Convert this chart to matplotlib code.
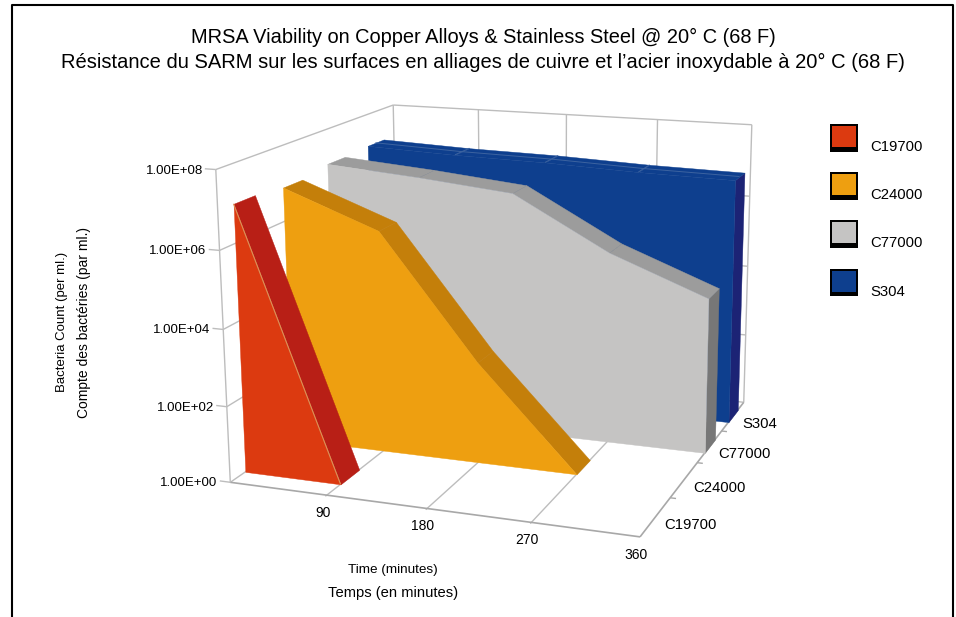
import numpy as np
import matplotlib
matplotlib.use("Agg")
import matplotlib.pyplot as plt
from matplotlib.patches import Rectangle
from mpl_toolkits.mplot3d.art3d import Poly3DCollection, Line3DCollection

plt.rcParams['font.family'] = ['Liberation Sans', 'DejaVu Sans']

# data, counts as log10
times = [0, 90, 180, 270, 360]
series = ['C19700', 'C24000', 'C77000', 'S304']
c19700 = [7.0, 0.0]
c24000 = [6.9, 5.95, 2.7, 0.0]
c77000 = [7.05, 6.85, 6.6, 5.2, 4.2]
s304 = [7.1, 7.0, 6.95, 6.85, 6.8]
values = [c19700, c24000, c77000, s304]
y_ticks = [0, 2, 4, 6, 8]
y_labels = ['1.00E+00', '1.00E+02', '1.00E+04', '1.00E+06', '1.00E+08']

face_colors = ['#DC3A10', '#EE9F10', '#C5C4C3', '#0E3F8E']
side_colors = ['#B81F16', '#C47F0A', '#9C9C9C', '#0E3F8E']
end_colors = ['#B81F16', '#C47F0A', '#777777', '#1C2375']

W, H = 956, 617

# camera: (t, log count, depth) -> pixel
cam = [(0, 0, 0, 231, 482), (0, 8, 0, 218, 169), (360, 0, 0, 637, 538),
       (360, 0, 4, 743, 402), (360, 8, 4, 753, 124), (0, 8, 4, 392, 105),
       (90, 0, 0, 328, 495), (180, 0, 0, 427, 509), (270, 0, 0, 532, 522),
       (0, 2, 0, 225, 407), (0, 4, 0, 222, 330), (0, 6, 0, 220, 250),
       (360, 6, 4, 748, 197), (360, 4, 4, 747, 267), (360, 2, 4, 745, 335),
       (360, 0, 1, 669, 497), (360, 0, 2, 698, 463), (360, 0, 3, 726, 430),
       (90, 8, 4, 478, 110), (180, 8, 4, 567, 115), (270, 8, 4, 658, 119)]


def fit_camera(points):
    # matrix for mplot3d, input (t, depth, value), output in -1..1 view coords
    rows = []
    for t, y, z, px, py in points:
        p = [t / 360, z / 4, y / 8, 1]
        u, v = 2 * px / W - 1, 2 * py / H - 1
        rows.append(p + [0, 0, 0, 0] + [-u * c for c in p])
        rows.append([0, 0, 0, 0] + p + [-v * c for c in p])
    P = np.linalg.svd(np.array(rows))[2][-1].reshape(3, 4)
    P = P @ np.diag([1 / 360, 1 / 4, 1 / 8, 1])
    if P[2, 3] < 0:
        P = -P
    null = np.linalg.svd(P)[2][-1]
    return np.vstack([P[0], P[1], 1e-3 * P[2, 3] * null, P[2]])


M = fit_camera(cam)


def to_pixel(t, y, z):
    h = M @ np.array([t, z, y, 1.0])
    return (h[0] / h[3] + 1) * W / 2, (h[1] / h[3] + 1) * H / 2


fig = plt.figure(figsize=(W / 100, H / 100), dpi=100)
ax = fig.add_subplot(projection='3d', computed_zorder=False)
ax.apply_aspect = lambda position=None: None
ax.set_position([0, 0, 1, 1])
ax.get_proj = lambda: M
ax.viewLim.intervalx = (-1, 1)
ax.viewLim.intervaly = (1, -1)
ax.set_axis_off()

grid = '#BDBDBD'
frame = '#A8A8A8'


def line(ts, ys, zs, color=grid, lw=1.0, zo=1):
    seg = [list(zip(ts, zs, ys))]
    ax.add_collection3d(Line3DCollection(seg, colors=color, linewidths=lw, zorder=zo))


def poly(verts, color, zo):
    pts = [(t, z, y) for t, y, z in verts]
    ax.add_collection3d(Poly3DCollection([pts], facecolor=color, edgecolor=color,
                                         linewidth=0.3, zorder=zo))


# walls and floor
for y in y_ticks:
    line([-10, 0], [y, y], [0, 0])
    line([0, 0], [y, y], [0, 4])
    line([0, 360], [y, y], [4, 4])
for t in times[1:-1]:
    line([t, t], [0, 0], [-0.03, 4])
    line([t, t], [0, 8], [4, 4])
line([0, 0], [0, 8], [4, 4])
line([360, 360], [0, 8], [4, 4])
line([0, 360], [0, 0], [0, 0], frame, 1.2)
line([360, 360], [0, 0], [0, 4], frame, 1.2)
line([0, 0], [0, 8], [0, 0])
for z in [1, 2, 3]:
    line([360, 365], [0, 0], [z, z], frame)

# areas, back series first
for k in range(len(series) - 1, -1, -1):
    vals = values[k]
    ts = times[:len(vals)]
    z0, z1 = k + 0.3, k + 0.72
    zo = 10 + (3 - k) * 5
    if vals[-1] > 0:
        poly([(ts[-1], 0, z0), (ts[-1], 0, z1), (ts[-1], vals[-1], z1),
              (ts[-1], vals[-1], z0)], end_colors[k], zo)
    for i in range(len(ts) - 1):
        poly([(ts[i], vals[i], z0), (ts[i + 1], vals[i + 1], z0),
              (ts[i + 1], vals[i + 1], z1), (ts[i], vals[i], z1)], side_colors[k], zo + 1)
    front = [(t, v, z0) for t, v in zip(ts, vals)]
    front += [(ts[-1], 0, z0), (ts[0], 0, z0)]
    poly(front, face_colors[k], zo + 2)

# ridge highlights
line(times[:2], c19700, [0.3, 0.3], '#D9925A', 0.8, 40)
for t, v in zip(times[1:-1], s304[1:-1]):
    line([t, t], [v, v], [3.3, 3.72], '#3C63A0', 0.7, 20)
line(times, s304, [3.5] * 5, '#3C63A0', 0.7, 20)

# flat overlay for text, legend and outer border
ov = fig.add_axes([0, 0, 1, 1], facecolor='none')
ov.set_xlim(0, W)
ov.set_ylim(H, 0)
ov.axis('off')

ov.plot([12, 12, 953, 953], [H, 4.5, 4.5, H], color='black', lw=1.5)

ov.text(483, 37, 'MRSA Viability on Copper Alloys & Stainless Steel @ 20\u00b0 C (68 F)',
        ha='center', va='center', fontsize=14.4)
ov.text(483, 62, 'R\u00e9sistance du SARM sur les surfaces en alliages de cuivre et '
        'l\u2019acier inoxydable \u00e0 20\u00b0 C (68 F)', ha='center', va='center', fontsize=14.5)

for y, lab in zip(y_ticks, y_labels):
    px, py = to_pixel(0, y, 0)
    ov.text(px - 13, py + 1, lab, ha='right', va='center', fontsize=9.5)
for t in times[1:]:
    px, py = to_pixel(t, 0, 0)
    ov.text(px - 4, py + 18, str(t), ha='center', va='center', fontsize=10)
for k, name in enumerate(series):
    px, py = to_pixel(360, 0, k + 0.5)
    ov.text(px + 9, py + 8, name, ha='left', va='center', fontsize=10.7)

ov.text(393, 570, 'Time (minutes)', ha='center', va='center', fontsize=9.7)
ov.text(393, 593, 'Temps (en minutes)', ha='center', va='center', fontsize=10.6)
ov.text(62, 322, 'Bacteria Count (per ml.)', rotation=90, ha='center', va='center', fontsize=9.5)
ov.text(84, 322, 'Compte des bact\u00e9ries (par ml.)', rotation=90, ha='center', va='center', fontsize=10)

# legend
for k, name in enumerate(series):
    top = 124 + k * 48.2
    ov.add_patch(Rectangle((830, top), 28, 27.5, facecolor='black', edgecolor='none'))
    ov.add_patch(Rectangle((832, top + 2), 24, 21, facecolor=face_colors[k], edgecolor='none'))
    ov.text(870, top + 23, name, ha='left', va='center', fontsize=10.7)

fig.savefig('out.png', dpi=100)
